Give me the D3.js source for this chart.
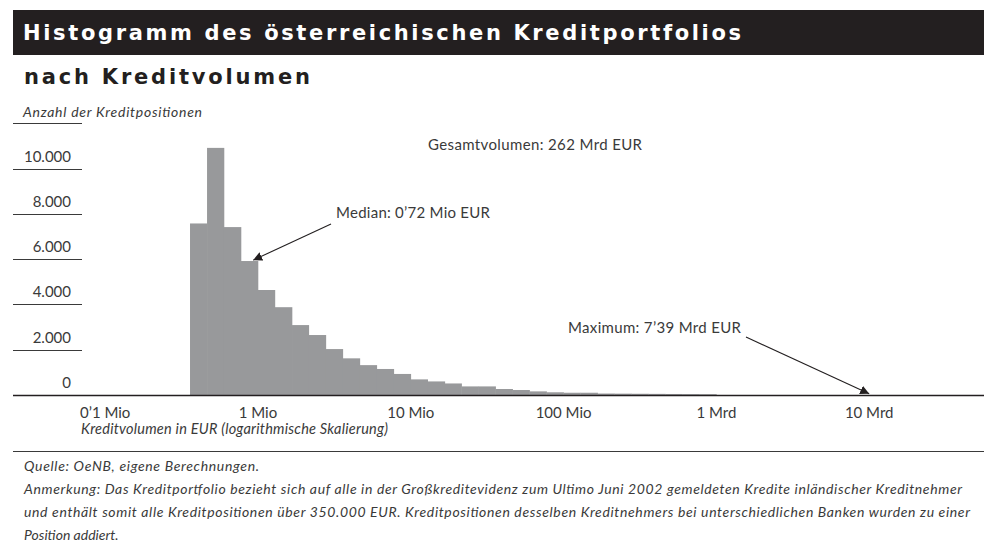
<!DOCTYPE html>
<html>
<head>
<meta charset="utf-8">
<script src="https://cdn.jsdelivr.net/npm/d3@7"></script>
<style>
  body { margin: 0; background: #fff; }
  text { font-family: "Lato", "Open Sans", sans-serif; fill: #3a3a3a; }
  .head { font-family: "DejaVu Sans", sans-serif; font-weight: bold; }
  .it { font-style: italic; }
</style>
</head>
<body>
<div id="chart"></div>
<script>
var svgWidth = 984; //width of svg tag area
var svgHeight = 547; //height of svg tag area

// lower edges of the histogram classes, in Mio EUR (logarithmic classes)
var binStart = [0.359, 0.464, 0.599, 0.774, 1, 1.29, 1.67, 2.15, 2.78, 3.59, 4.64, 5.99, 7.74,
    10, 12.9, 16.7, 21.5, 27.8, 35.9, 46.4, 59.9, 77.4, 100, 129, 167, 215, 278, 359, 464, 599, 774];
// upper edges of the same classes
var binEnd = [0.464, 0.599, 0.774, 1, 1.29, 1.67, 2.15, 2.78, 3.59, 4.64, 5.99, 7.74, 10,
    12.9, 16.7, 21.5, 27.8, 35.9, 46.4, 59.9, 77.4, 100, 129, 167, 215, 278, 359, 464, 599, 774, 1000];
// number of credit positions per class
var counts = [7580, 10920, 7420, 5920, 4640, 3880, 3090, 2650, 2030, 1620, 1320, 1150, 930,
    690, 600, 510, 380, 380, 265, 220, 160, 120, 100, 100, 65, 60, 55, 50, 45, 40, 35];

var yTicks = [0, 2000, 4000, 6000, 8000, 10000];
var xTicks = [0.1, 1, 10, 100, 1000, 10000]; // Mio EUR
var xTickLabels = ["0’1 Mio", "1 Mio", "10 Mio", "100 Mio", "1 Mrd", "10 Mrd"];

var titleLines = ["Histogramm des österreichischen Kreditportfolios", "nach Kreditvolumen"];
var noteLines = [
    "Quelle: OeNB, eigene Berechnungen.",
    "Anmerkung: Das Kreditportfolio bezieht sich auf alle in der Großkreditevidenz zum Ultimo Juni 2002 gemeldeten Kredite inländischer Kreditnehmer",
    "und enthält somit alle Kreditpositionen über 350.000 EUR. Kreditpositionen desselben Kreditnehmers bei unterschiedlichen Banken wurden zu einer",
    "Position addiert."
];

var de = d3.formatLocale({ decimal: ",", thousands: ".", grouping: [3], currency: ["", " EUR"] });
var fmt = de.format(",");

var svg = d3.select("#chart")
    .append("svg")
    .attr("width", svgWidth)
    .attr("height", svgHeight);

var x = d3.scaleLog() //log scale for credit volume
    .domain([0.1, 10000])
    .range([105.2, 869.2]);
var y = d3.scaleLinear()
    .domain([0, 10000])
    .range([395, 168.7]);

// title block
svg.append("rect")
    .attr("x", 13).attr("y", 10)
    .attr("width", svgWidth - 13).attr("height", 45)
    .attr("fill", "#231f20");
svg.append("text")
    .attr("class", "head")
    .attr("x", 23).attr("y", 40)
    .attr("font-size", 21)
    .attr("textLength", 718).attr("lengthAdjust", "spacing")
    .style("fill", "#fff")
    .text(titleLines[0]);
svg.append("text")
    .attr("class", "head")
    .attr("x", 24).attr("y", 84)
    .attr("font-size", 21)
    .attr("textLength", 286).attr("lengthAdjust", "spacing")
    .style("fill", "#231f20")
    .text(titleLines[1]);

// y axis title
svg.append("text")
    .attr("class", "it")
    .attr("x", 23).attr("y", 117)
    .attr("font-size", 14)
    .attr("textLength", 179).attr("lengthAdjust", "spacing")
    .text("Anzahl der Kreditpositionen");
svg.append("line")
    .attr("x1", 13).attr("x2", 82)
    .attr("y1", 123.5).attr("y2", 123.5)
    .attr("stroke", "#3a3a3a").attr("stroke-width", 1);

// bars
svg.append("g")
    .selectAll("rect")
    .data(counts)
    .join("rect")
    .attr("x", (d, i) => x(binStart[i]))
    .attr("width", (d, i) => x(binEnd[i]) - x(binStart[i]) + 0.3)
    .attr("y", d => y(d))
    .attr("height", d => y(0) - y(d))
    .attr("fill", "#98999b");

// y ticks: short lines with labels above them
var yg = svg.append("g");
yg.selectAll("line")
    .data(yTicks.filter(d => d > 0))
    .join("line")
    .attr("x1", 13).attr("x2", 82)
    .attr("y1", d => Math.round(y(d)) + 0.5)
    .attr("y2", d => Math.round(y(d)) + 0.5)
    .attr("stroke", "#3a3a3a").attr("stroke-width", 1.1);
yg.selectAll("text")
    .data(yTicks)
    .join("text")
    .attr("x", 71)
    .attr("y", d => y(d) - 7)
    .attr("text-anchor", "end")
    .attr("font-size", 15)
    .text(d => fmt(d));

// baseline
svg.append("line")
    .attr("x1", 13).attr("x2", svgWidth)
    .attr("y1", y(0) + 0.5).attr("y2", y(0) + 0.5)
    .attr("stroke", "#231f20").attr("stroke-width", 1.4);

// x tick labels
svg.append("g")
    .selectAll("text")
    .data(xTicks)
    .join("text")
    .attr("x", d => x(d))
    .attr("y", 418)
    .attr("text-anchor", "middle")
    .attr("font-size", 15)
    .text((d, i) => xTickLabels[i]);
svg.append("text")
    .attr("class", "it")
    .attr("x", 81).attr("y", 434)
    .attr("font-size", 14.5)
    .attr("textLength", 307).attr("lengthAdjust", "spacing")
    .text("Kreditvolumen in EUR (logarithmische Skalierung)");
svg.append("line")
    .attr("x1", 13).attr("x2", svgWidth)
    .attr("y1", 451.5).attr("y2", 451.5)
    .attr("stroke", "#3a3a3a").attr("stroke-width", 1);

// annotations
var defs = svg.append("defs");
defs.append("marker")
    .attr("id", "arrow")
    .attr("viewBox", "0 0 10 10")
    .attr("refX", 10).attr("refY", 5)
    .attr("markerWidth", 9).attr("markerHeight", 9)
    .attr("markerUnits", "userSpaceOnUse")
    .attr("orient", "auto")
    .append("path")
    .attr("d", "M0,0 L10,5 L0,10 z")
    .attr("fill", "#231f20");

svg.append("text")
    .attr("x", 428).attr("y", 150)
    .attr("font-size", 15)
    .attr("textLength", 214).attr("lengthAdjust", "spacing")
    .text("Gesamtvolumen: 262 Mrd EUR");

svg.append("text")
    .attr("x", 336).attr("y", 218)
    .attr("font-size", 15)
    .attr("textLength", 154).attr("lengthAdjust", "spacing")
    .text("Median: 0’72 Mio EUR");
svg.append("line") // arrow to the median class
    .attr("x1", 331).attr("y1", 224)
    .attr("x2", x(0.93)).attr("y2", y(5960))
    .attr("stroke", "#231f20").attr("stroke-width", 1.1)
    .attr("marker-end", "url(#arrow)");

svg.append("text")
    .attr("x", 568).attr("y", 333)
    .attr("font-size", 15)
    .attr("textLength", 173).attr("lengthAdjust", "spacing")
    .text("Maximum: 7’39 Mrd EUR");
svg.append("line") // arrow to the largest position
    .attr("x1", 746).attr("y1", 337)
    .attr("x2", x(10000)).attr("y2", y(60))
    .attr("stroke", "#231f20").attr("stroke-width", 1.1)
    .attr("marker-end", "url(#arrow)");

// notes
var noteWidths = [235, 938, 946, 0];
svg.append("g")
    .selectAll("text")
    .data(noteLines)
    .join("text")
    .attr("class", "it")
    .attr("x", 24)
    .attr("y", (d, i) => 471 + i * 23)
    .attr("font-size", 14)
    .each(function(d, i) {
        if (noteWidths[i] > 0) {
            d3.select(this).attr("textLength", noteWidths[i]).attr("lengthAdjust", "spacing");
        }
    })
    .text(d => d);
</script>
</body>
</html>
